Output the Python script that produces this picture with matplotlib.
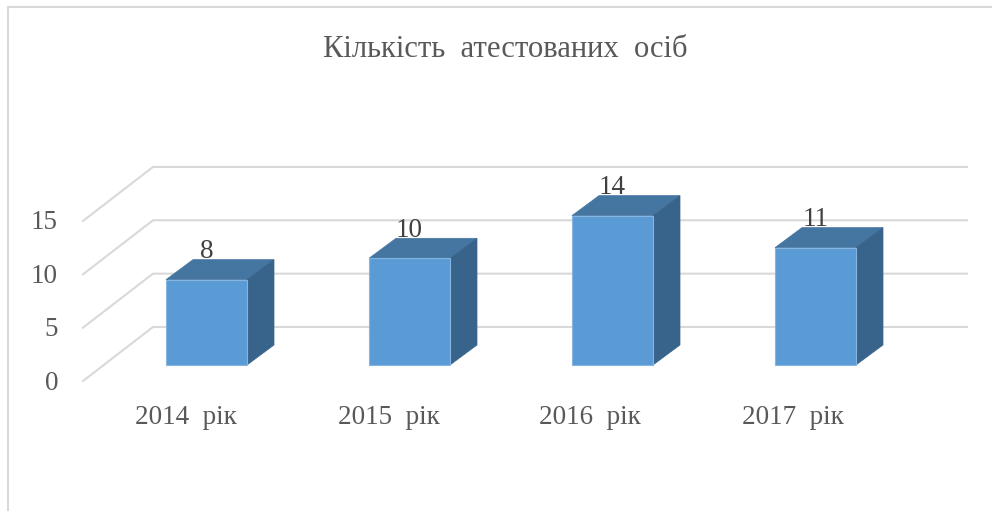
import matplotlib
matplotlib.use('Agg')
import matplotlib.pyplot as plt
from matplotlib.patches import Polygon

plt.rcParams['font.family'] = ['Liberation Serif', 'DejaVu Serif']

title = 'Кількість  атестованих  осіб'
categories = ['2014  рік', '2015  рік', '2016  рік', '2017  рік']
values = [8, 10, 14, 11]
yticks = [0, 5, 10, 15]

# скільки пікселів в одиниці по осях
px_x = 203.0
px_y = 10.67
w = 81 / px_x
dx = 27 / px_x
dy = 20 / px_y

fig = plt.figure(figsize=(9.92, 5.13), dpi=100)
ax = fig.add_axes([0, 0, 1, 1])
ax.set_xlim(-206.5 / px_x, (992 - 206.5) / px_x)
ax.set_ylim(-(513 - 365) / px_y, 365 / px_y)
ax.axis('off')

# рамка
fig.add_artist(plt.Line2D([8 / 992, 8 / 992], [0.005, 1 - 7 / 513], color='#d9d9d9', lw=1.5))
fig.add_artist(plt.Line2D([8 / 992, 1], [1 - 7 / 513, 1 - 7 / 513], color='#d9d9d9', lw=1.5))

# сітка
x_front = (83 - 206.5) / px_x
x_back = (153 - 206.5) / px_x
x_end = (967 - 206.5) / px_x
y_front = -16 / px_y
y_back = 38 / px_y
for v in yticks:
    ax.plot([x_front, x_back, x_end], [y_front + v, y_back + v, y_back + v],
            color='#d9d9d9', lw=1.5, zorder=1)
    ax.text(58 / px_x - 206.5 / px_x, y_front + v - 2 / px_y, str(v), ha='right', va='center',
            fontsize=19.5, color='#595959')

# стовпчики
for i, v in enumerate(values):
    l, r = i - w / 2, i + w / 2
    ax.bar(i, v, width=w, color='#5b9bd5', edgecolor='#85b5e0', lw=0.8, zorder=3)
    ax.add_patch(Polygon([(l, v), (r, v), (r + dx, v + dy), (l + dx, v + dy)],
                         facecolor='#4575a1', edgecolor='#4575a1', lw=0.5, zorder=2))
    ax.add_patch(Polygon([(r, 0), (r + dx, dy), (r + dx, v + dy), (r, v)],
                         facecolor='#38648b', edgecolor='#38648b', lw=0.5, zorder=2))
    ax.text(i, v + 2.65, str(v), ha='center', va='center',
            fontsize=19.5, color='#404040', zorder=4)
    shift = 21 if i < 2 else 23
    ax.text(i - shift / px_x, -53 / px_y, categories[i], ha='center', va='center',
            fontsize=19.5, color='#595959')

fig.text(505.5 / 992, 1 - 49.5 / 513, title, ha='center', va='center', fontsize=22.1, color='#595959')

fig.savefig('out.png', dpi=100)
